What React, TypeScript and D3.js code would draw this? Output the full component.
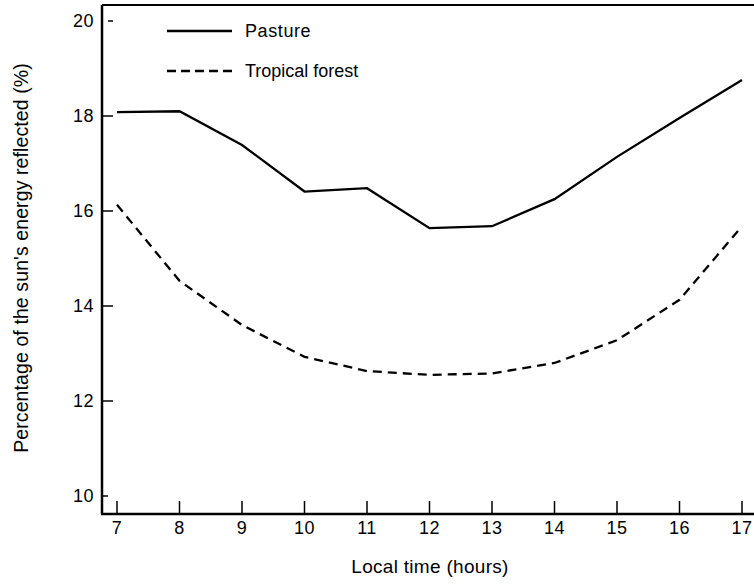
import React from "react";
import * as d3 from "d3";

const hours = [7, 8, 9, 10, 11, 12, 13, 14, 15, 16, 17];
const pasture = [18.08, 18.1, 17.39, 16.41, 16.48, 15.64, 15.68, 16.25, 17.14, 17.96, 18.76];
const forest = [16.13, 14.53, 13.6, 12.93, 12.63, 12.55, 12.58, 12.8, 13.28, 14.13, 15.68];
const yTicks = [10, 12, 14, 16, 18, 20];
const xTicks = [7, 8, 9, 10, 11, 12, 13, 14, 15, 16, 17];
const seriesNames = ["Pasture", "Tropical forest"];

const W = 754;
const H = 584;
const font = "'Liberation Sans', Arial, Helvetica, sans-serif";

export default function App() {
  const x = d3.scaleLinear().domain([7, 17]).range([117, 742]);
  const y = d3.scaleLinear().domain([10, 20]).range([496, 21]);
  const axisX = 102;
  const axisY = 514;
  const topY = 5;

  const line = d3
    .line<number>()
    .x((_, i) => x(hours[i]))
    .y((d) => y(d))
    .curve(d3.curveLinear);

  return (
    <svg
      width={W}
      height={H}
      style={{ position: "absolute", left: 0, top: 0, background: "#fff" }}
      fontFamily={font}
    >
      <rect x={0} y={0} width={W} height={H} fill="#fff" />
      {/* frame */}
      <line x1={axisX} y1={topY} x2={W} y2={topY} stroke="#000" strokeWidth={2} />
      <line x1={axisX} y1={topY} x2={axisX} y2={axisY} stroke="#000" strokeWidth={2.5} />
      <line x1={axisX - 1} y1={axisY} x2={W} y2={axisY} stroke="#000" strokeWidth={2.5} />

      {/* y ticks */}
      {yTicks.map((t) => (
        <g key={t}>
          <line
            x1={t === 20 ? axisX + 6 : axisX}
            x2={t === 10 ? axisX + 6 : axisX + 11}
            y1={y(t)}
            y2={y(t)}
            stroke="#000"
            strokeWidth={1.5}
          />
          <text
            x={axisX - 8}
            y={y(t)}
            dy="0.36em"
            textAnchor="end"
            fontSize={18}
            letterSpacing={0.5}
          >
            {t}
          </text>
        </g>
      ))}

      {/* x ticks */}
      {xTicks.map((t) => (
        <g key={t}>
          <line x1={x(t)} x2={x(t)} y1={axisY} y2={axisY - 13} stroke="#000" strokeWidth={1.5} />
          <text x={x(t)} y={axisY + 20} textAnchor="middle" fontSize={18} letterSpacing={0.5}>
            {t}
          </text>
        </g>
      ))}

      {/* series */}
      <path d={line(pasture) || ""} fill="none" stroke="#000" strokeWidth={2.3} />
      <path
        d={line(forest) || ""}
        fill="none"
        stroke="#000"
        strokeWidth={2.3}
        strokeDasharray="9,6"
      />

      {/* legend */}
      <line x1={167} x2={232} y1={31} y2={31} stroke="#000" strokeWidth={2.3} />
      <text x={245} y={31} dy="0.36em" fontSize={18} letterSpacing={0.6}>
        {seriesNames[0]}
      </text>
      <line x1={167} x2={232} y1={71} y2={71} stroke="#000" strokeWidth={2.3} strokeDasharray="9,5" />
      <text x={245} y={71} dy="0.36em" fontSize={18} letterSpacing={0}>
        {seriesNames[1]}
      </text>

      {/* axis labels */}
      <text x={430} y={573} textAnchor="middle" fontSize={19} letterSpacing={0.3}>
        Local time (hours)
      </text>
      <text
        transform={`translate(28, 258) rotate(-90)`}
        textAnchor="middle"
        fontSize={19.5}
        letterSpacing={0.1}
      >
        Percentage of the sun's energy reflected (%)
      </text>
    </svg>
  );
}
